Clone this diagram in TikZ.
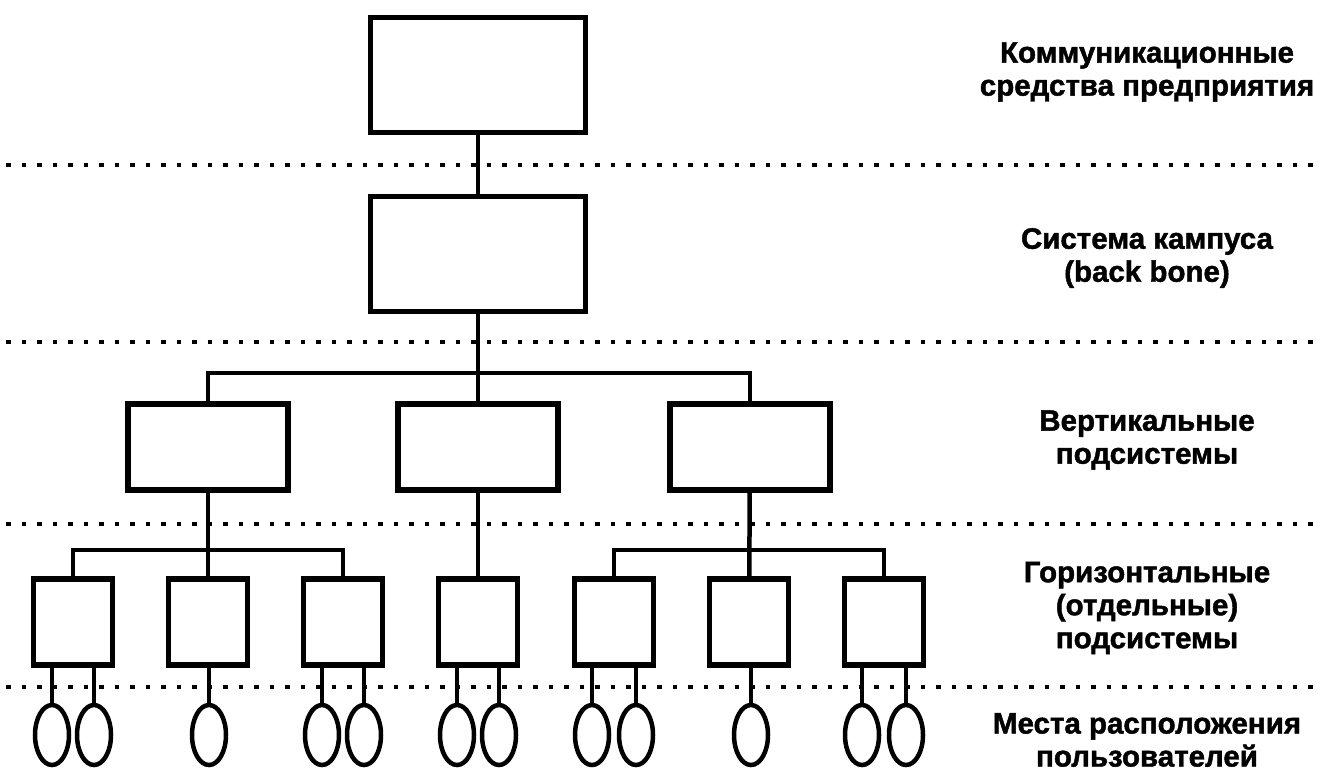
\documentclass[tikz,border=0pt]{standalone}
\usepackage{fontspec}
\setmainfont{Liberation Sans}
\newfontfamily\lblfont{Liberation Sans}[BoldFeatures={FakeBold=1.5}]
\usepackage{tikz}
\usetikzlibrary{shapes.geometric}
\tikzstyle{blk}=[draw,line width=5.5pt,inner sep=0pt]
\tikzstyle{topbox}=[blk,minimum width=215pt,minimum height=115pt]
\tikzstyle{vbox}=[blk,minimum width=160pt,minimum height=86pt]
\tikzstyle{hbox}=[blk,minimum width=79pt,minimum height=86pt]
\tikzstyle{usr}=[draw,ellipse,line width=4.5pt,inner sep=0pt,minimum width=34pt,minimum height=60pt]
\tikzstyle{link}=[line width=4.5pt]
\tikzstyle{sep}=[line width=4.5pt,dash pattern=on 4.5pt off 11pt]
\tikzstyle{lvl}=[align=center,font=\lblfont\fontsize{29.5}{33}\selectfont\bfseries]

\begin{document}
\begin{tikzpicture}[x=1pt,y=-1pt]
  \useasboundingbox (0,0) rectangle (1321,771);
  % level separators
  \foreach \y in {165,342,524,687}
    \draw[sep] (6,\y) -- (1321,\y);
  % boxes
  \node[topbox] (ent) at (478,75) {};
  \node[topbox] (camp) at (478,254) {};
  \node[vbox] (v1) at (208,447) {};
  \node[vbox] (v2) at (478,447) {};
  \node[vbox] (v3) at (750,447) {};
  \foreach \n/\x in {1/73,2/208,3/343,4/478,5/614,6/749,7/884}
    \node[hbox] (h\n) at (\x,622) {};
  \foreach \n/\x in {1/52,2/94,3/209,4/322,5/364,6/457,7/499,8/592,9/636,10/751,11/862,12/906}
    \node[usr] (u\n) at (\x,735) {};
  % buses
  \coordinate (busV) at (478,373);
  \coordinate (busL) at (208,550);
  \coordinate (busR) at (749,550);
  \draw[link] (ent) -- (camp);
  \draw[link] (camp) -- (v2);
  \draw[link] (v1.north) |- (busV) -| (v3.north);
  \draw[link] (v1) -- (h2);
  \draw[link] (v2) -- (h4);
  \draw[link] (v3) -- (h6);
  \draw[link] (h1.north) |- (busL) -| (h3.north);
  \draw[link] (h5.north) |- (busR) -| (h7.north);
  \foreach \u/\h in {1/1,2/1,3/2,4/3,5/3,6/4,7/4,8/5,9/5,10/6,11/7,12/7}
    \draw[link] (u\u.north) -- (u\u.north |- h\h.south);
  % level names
  \node[lvl] (t1) at (1147,72) {Коммуникационные\\средства предприятия};
  \node[lvl] (t2) at (1147,258) {Система кампуса\\(back bone)};
  \node[lvl] (t3) at (1147,440) {Вертикальные\\подсистемы};
  \node[lvl] (t4) at (1147,608) {Горизонтальные\\(отдельные)\\подсистемы};
  \node[lvl] (t5) at (1147,740) {Места расположения\\пользователей};
\end{tikzpicture}
\end{document}
